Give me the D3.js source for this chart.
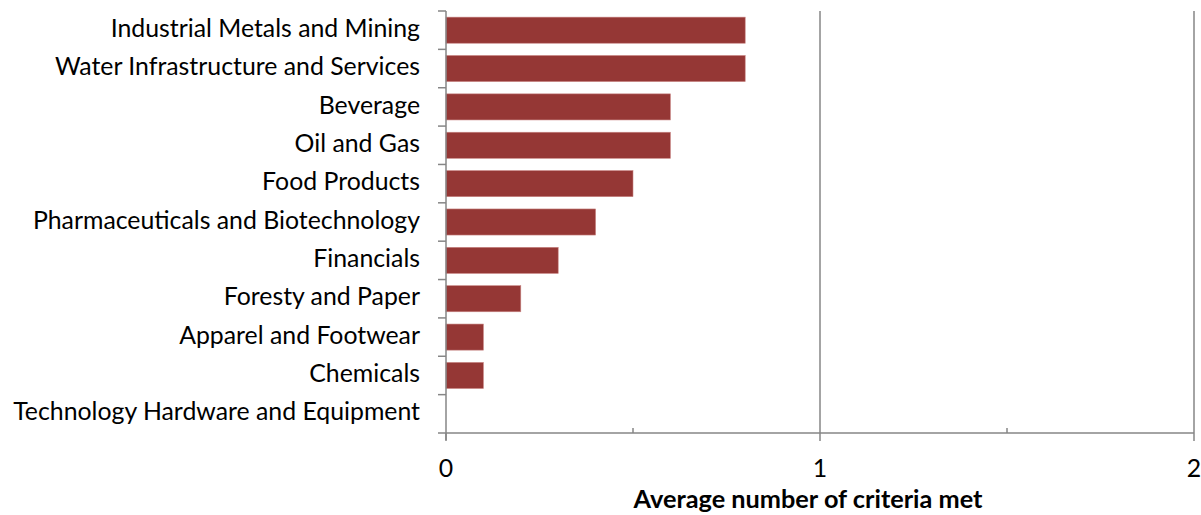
<!DOCTYPE html>
<html>
<head>
<meta charset="utf-8">
<script src="https://cdn.jsdelivr.net/npm/d3@7"></script>
<style>
  html, body { margin: 0; padding: 0; background: #fff; }
  svg { display: block; }
  text { font-family: Lato, "Open Sans", sans-serif; fill: #000; }
</style>
</head>
<body>
<svg id="chart" width="1201" height="515"></svg>
<script>
const categories = [
  "Industrial Metals and Mining",
  "Water Infrastructure and Services",
  "Beverage",
  "Oil and Gas",
  "Food Products",
  "Pharmaceuticals and Biotechnology",
  "Financials",
  "Foresty and Paper",
  "Apparel and Footwear",
  "Chemicals",
  "Technology Hardware and Equipment"
];
const values = [0.8, 0.8, 0.6, 0.6, 0.5, 0.4, 0.3, 0.2, 0.1, 0.1, 0];
const majorTicks = [0, 1, 2];
const minorTicks = [0.5, 1.5];
const xTitle = "Average number of criteria met";

(function () {
const svg = d3.select("#chart");
const pL = 446, pR = 1194, pT = 11, pB = 433;
const axisColor = "#868686";
const barColor = "#953735";

const x = d3.scaleLinear().domain([0, 2]).range([pL, pR]);
const y = d3.scaleBand().domain(categories).range([pT, pB]).paddingInner(0.32).paddingOuter(0.16);

// gridlines
svg.append("g").selectAll("line").data(majorTicks.filter(d => d > 0)).join("line")
  .attr("x1", d => x(d)).attr("x2", d => x(d))
  .attr("y1", pT).attr("y2", pB)
  .attr("stroke", axisColor).attr("stroke-width", 1.5);

// bars
svg.append("g").selectAll("rect").data(categories).join("rect")
  .attr("x", x(0))
  .attr("y", d => y(d))
  .attr("width", (d, i) => x(values[i]) - x(0))
  .attr("height", y.bandwidth())
  .attr("fill", barColor)
  .attr("stroke", (d, i) => values[i] > 0 ? "#c98583" : "none")
  .attr("stroke-width", 0.6);

// y axis
const yAxisG = svg.append("g");
yAxisG.append("line").attr("x1", pL).attr("x2", pL).attr("y1", pT).attr("y2", pB + 7)
  .attr("stroke", axisColor).attr("stroke-width", 1.5);
const bounds = d3.range(categories.length + 1).map(i => pT + i * (pB - pT) / categories.length);
yAxisG.selectAll("line.tk").data(bounds).join("line").attr("class", "tk")
  .attr("x1", pL - 8).attr("x2", pL).attr("y1", d => d).attr("y2", d => d)
  .attr("stroke", axisColor).attr("stroke-width", 1.5);

const labels = yAxisG.selectAll("text").data(categories).join("text")
  .attr("x", pL - 26)
  .attr("y", d => y(d) + y.bandwidth() / 2 + 6.6)
  .attr("text-anchor", "end")
  .style("font-size", "20px")
  .text(d => d);
let maxW = 0;
labels.each(function () { maxW = Math.max(maxW, this.getComputedTextLength()); });
const fs = 20 * 407 / maxW;
labels.style("font-size", fs + "px");

// x axis
const xAxisG = svg.append("g");
xAxisG.append("line").attr("x1", pL).attr("x2", pR).attr("y1", pB).attr("y2", pB)
  .attr("stroke", axisColor).attr("stroke-width", 1.5);
xAxisG.selectAll("line.maj").data(majorTicks).join("line").attr("class", "maj")
  .attr("x1", d => x(d)).attr("x2", d => x(d)).attr("y1", pB).attr("y2", pB + 8)
  .attr("stroke", axisColor).attr("stroke-width", 1.5);
xAxisG.selectAll("line.min").data(minorTicks).join("line").attr("class", "min")
  .attr("x1", d => x(d)).attr("x2", d => x(d)).attr("y1", pB - 5).attr("y2", pB)
  .attr("stroke", axisColor).attr("stroke-width", 1.5);
xAxisG.selectAll("text").data(majorTicks).join("text")
  .attr("x", d => x(d)).attr("y", 477)
  .attr("text-anchor", "middle")
  .style("font-size", fs + "px")
  .text(d => d);

const title = svg.append("text")
  .attr("x", 808).attr("y", 508)
  .attr("text-anchor", "middle")
  .style("font-size", fs + "px").style("font-weight", "bold")
  .text(xTitle);
const tw = title.node().getComputedTextLength();
title.style("font-size", (fs * 349 / tw) + "px");
})();
</script>
</body>
</html>
